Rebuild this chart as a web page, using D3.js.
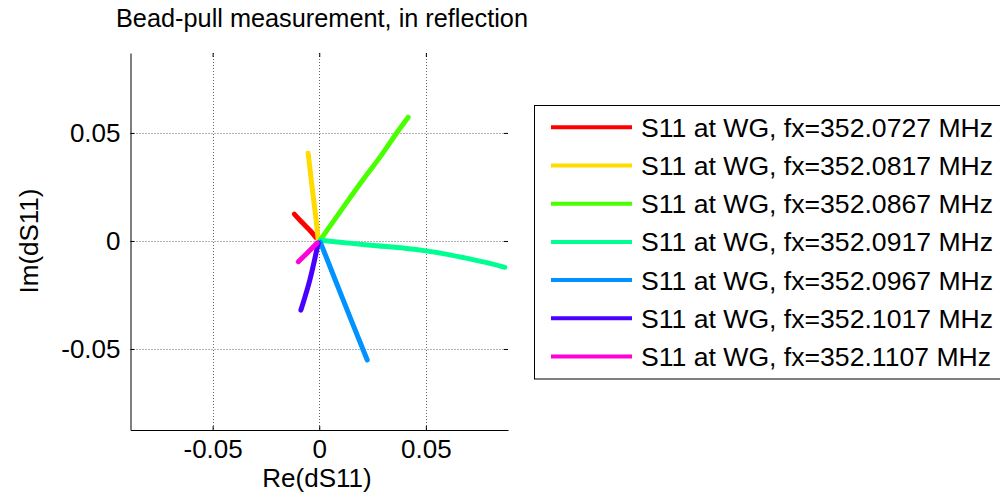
<!DOCTYPE html>
<html>
<head>
<meta charset="utf-8">
<script src="https://cdn.jsdelivr.net/npm/d3@7"></script>
<style>
  html, body { margin: 0; padding: 0; background: #fff; }
  svg { display: block; font-family: "Liberation Sans", Arial, Helvetica, sans-serif; }
</style>
</head>
<body>
<svg id="chart" width="1000" height="497"></svg>
<script>
// ---- data ----
const seriesLabels = [
  "S11 at WG, fx=352.0727 MHz",
  "S11 at WG, fx=352.0817 MHz",
  "S11 at WG, fx=352.0867 MHz",
  "S11 at WG, fx=352.0917 MHz",
  "S11 at WG, fx=352.0967 MHz",
  "S11 at WG, fx=352.1017 MHz",
  "S11 at WG, fx=352.1107 MHz"
];
const seriesColors = ["#ff0000", "#ffdb00", "#49ff00", "#00ff92", "#0092ff", "#4900ff", "#ff00db"];

const re1 = [-0.0015, -0.004, -0.008, -0.0117];
const im1 = [0.0015, 0.0045, 0.0085, 0.0124];
const re2 = [-0.0005, -0.0015, -0.003, -0.0042, -0.0052];
const im2 = [0.0005, 0.010, 0.022, 0.032, 0.0406];
const re3 = [0.0005, 0.0105, 0.0199, 0.0290, 0.0363, 0.0417];
const im3 = [0.0005, 0.0145, 0.0275, 0.0395, 0.0500, 0.0573];
const re4 = [0.0005, 0.0140, 0.0269, 0.0400, 0.0500, 0.0600, 0.0700, 0.0800, 0.0870];
const im4 = [0.0003, -0.0010, -0.0022, -0.0034, -0.0046, -0.0062, -0.0082, -0.0104, -0.0122];
const re5 = [0.0005, 0.0112, 0.0225];
const im5 = [-0.0005, -0.0273, -0.0551];
const re6 = [-0.0005, -0.0044, -0.0086];
const im6 = [-0.0010, -0.0180, -0.0320];
const re7 = [-0.0010, -0.0055, -0.0098];
const im7 = [-0.0010, -0.0055, -0.0096];

const reSeries = [re1, re2, re3, re4, re5, re6, re7];
const imSeries = [im1, im2, im3, im4, im5, im6, im7];

const xTicks = [-0.05, 0, 0.05];
const yTicks = [-0.05, 0, 0.05];
const xTickLabels = ["-0.05", "0", "0.05"];
const yTickLabels = ["-0.05", "0", "0.05"];

const titleText = "Bead-pull measurement, in reflection";
const xLabelText = "Re(dS11)";
const yLabelText = "Im(dS11)";

// ---- layout ----
const svg = d3.select("#chart");
const L = 130.5, R = 508, T = 53, B = 430;
const x = d3.scaleLinear().domain([-0.0885, 0.0885]).range([L, R]);
const y = d3.scaleLinear().domain([-0.0875, 0.087]).range([B, T]);

// grid
const grid = svg.append("g");
grid.selectAll("line.gx").data(xTicks).join("line")
  .attr("x1", d => Math.round(x(d)) + 0.5).attr("x2", d => Math.round(x(d)) + 0.5)
  .attr("y1", T).attr("y2", B)
  .attr("stroke", "#666").attr("stroke-width", 1).attr("stroke-dasharray", "1,2");
grid.selectAll("line.gy").data(yTicks).join("line")
  .attr("y1", d => Math.round(y(d)) + 0.5).attr("y2", d => Math.round(y(d)) + 0.5)
  .attr("x1", L).attr("x2", R)
  .attr("stroke", "#666").attr("stroke-width", 1).attr("stroke-dasharray", "1,2");

// axes
const fmtX = d => xTickLabels[xTicks.indexOf(d)];
const fmtY = d => yTickLabels[yTicks.indexOf(d)];

const gx = svg.append("g").attr("transform", `translate(0,${B})`)
  .call(d3.axisBottom(x).tickValues(xTicks).tickFormat(fmtX).tickSizeInner(-4).tickSizeOuter(0).tickPadding(10));
const gy = svg.append("g").attr("transform", `translate(${L},0)`)
  .call(d3.axisLeft(y).tickValues(yTicks).tickFormat(fmtY).tickSizeInner(-4).tickSizeOuter(0).tickPadding(10));
const gt = svg.append("g").attr("transform", `translate(0,${T})`)
  .call(d3.axisTop(x).tickValues(xTicks).tickFormat("").tickSizeInner(-4).tickSizeOuter(0));
const gr = svg.append("g").attr("transform", `translate(${R},0)`)
  .call(d3.axisRight(y).tickValues(yTicks).tickFormat("").tickSizeInner(-4).tickSizeOuter(0));
gt.select(".domain").remove();
gr.select(".domain").remove();
[gx, gy, gt, gr].forEach(g => {
  g.selectAll("text").attr("font-size", 26).attr("font-family", "Liberation Sans, Arial, sans-serif").attr("fill", "#000");
  g.selectAll("line").attr("stroke", "#000");
  g.selectAll(".domain").attr("stroke", "#000");
});

// data lines
const lineGen = d3.line().x(d => x(d[0])).y(d => y(d[1])).curve(d3.curveCatmullRom);
reSeries.forEach((rs, i) => {
  const pts = rs.map((v, j) => [v, imSeries[i][j]]);
  svg.append("path").datum(pts)
    .attr("d", lineGen)
    .attr("fill", "none")
    .attr("stroke", seriesColors[i])
    .attr("stroke-width", 5)
    .attr("stroke-linecap", "round")
    .attr("stroke-linejoin", "round");
});

// title & labels
svg.append("text").attr("x", 322).attr("y", 27).attr("text-anchor", "middle")
  .attr("font-size", 25.3).text(titleText);
svg.append("text").attr("x", 317).attr("y", 487).attr("text-anchor", "middle")
  .attr("font-size", 26).text(xLabelText);
svg.append("text").attr("transform", "translate(37.5,241) rotate(-90)").attr("text-anchor", "middle")
  .attr("font-size", 26).text(yLabelText);

// legend
const lg = svg.append("g");
lg.append("rect").attr("x", 534.5).attr("y", 105.5).attr("width", 480).attr("height", 273.5)
  .attr("fill", "#fff").attr("stroke", "#000").attr("stroke-width", 1);
seriesLabels.forEach((lab, i) => {
  const yy = 127.3 + i * 38.2;
  lg.append("line").attr("x1", 551).attr("x2", 632).attr("y1", yy).attr("y2", yy)
    .attr("stroke", seriesColors[i]).attr("stroke-width", 4);
  lg.append("text").attr("x", 641).attr("y", yy).attr("dy", "0.36em")
    .attr("font-size", 26.6).text(lab);
});
</script>
</body>
</html>
